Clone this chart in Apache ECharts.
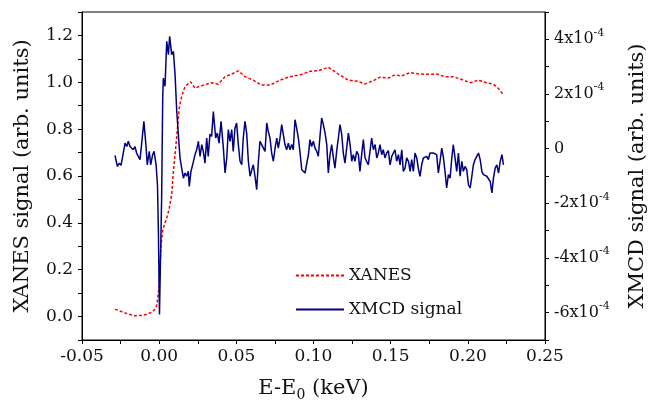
<!DOCTYPE html>
<html>
<head>
<meta charset="utf-8">
<script src="https://cdn.jsdelivr.net/npm/echarts@6/dist/echarts.min.js"></script>
<style>
  html, body { margin: 0; padding: 0; background: #fff; }
  #chart { width: 652px; height: 400px; }
</style>
</head>
<body>
<div id="chart"></div>
<script>
// XANES (left axis), energy E-E0 in keV
const xanesE = [-0.0286, -0.0220, -0.0157, -0.0110, -0.0081, -0.0050, -0.0033, -0.0016, 0.0000, 0.0005,
  0.0015, 0.0023, 0.0038, 0.0049, 0.0065, 0.0081, 0.0092, 0.0103, 0.0118, 0.0130,
  0.0146, 0.0167, 0.0190, 0.0204, 0.0232, 0.0260, 0.0297, 0.0340, 0.0383, 0.0427,
  0.0470, 0.0513, 0.0556, 0.0610, 0.0664, 0.0718, 0.0783, 0.0847, 0.0913, 0.0977,
  0.1031, 0.1096, 0.1161, 0.1226, 0.1280, 0.1334, 0.1388, 0.1431, 0.1485, 0.1528,
  0.1571, 0.1625, 0.1690, 0.1755, 0.1798, 0.1852, 0.1906, 0.1960, 0.2014, 0.2068,
  0.2122, 0.2165, 0.2198, 0.2231];
const xanesS = [0.032, 0.015, 0.003, 0.005, 0.010, 0.018, 0.027, 0.046, 0.13, 0.22,
  0.32, 0.37, 0.40, 0.42, 0.46, 0.52, 0.62, 0.69, 0.80, 0.89,
  0.94, 0.98, 0.995, 1.002, 0.975, 0.982, 0.99, 0.998, 0.992, 1.024,
  1.035, 1.049, 1.024, 1.009, 0.988, 0.988, 1.009, 1.024, 1.031, 1.047,
  1.049, 1.064, 1.035, 1.009, 1.005, 0.993, 1.007, 1.022, 1.018, 1.032,
  1.027, 1.041, 1.035, 1.034, 1.035, 1.024, 1.024, 1.012, 0.998, 1.009,
  0.998, 0.992, 0.974, 0.946];

// XMCD (right axis), values in units of 1e-4
const xmcdE = [-0.0286, -0.0271, -0.0258, -0.0247, -0.0236, -0.0221, -0.0210, -0.0200, -0.0189, -0.0178,
  -0.0168, -0.0157, -0.0146, -0.0135, -0.0124, -0.0114, -0.0099, -0.0086, -0.0077, -0.0064,
  -0.0055, -0.0042, -0.0033, -0.0020, -0.0011, -0.0005, 0.0002, 0.0016, 0.0023, 0.0027,
  0.0038, 0.0049, 0.0060, 0.0068, 0.0081, 0.0092, 0.0103, 0.0114, 0.0124, 0.0135,
  0.0146, 0.0157, 0.0167, 0.0178, 0.0189, 0.0195, 0.0206, 0.0217,
  0.0232, 0.0243, 0.0254, 0.0265, 0.0276, 0.0286, 0.0297, 0.0308, 0.0318, 0.0329,
  0.0340, 0.0351, 0.0366, 0.0377, 0.0388, 0.0401, 0.0416, 0.0427, 0.0438, 0.0448,
  0.0459, 0.0470, 0.0480, 0.0491, 0.0502, 0.0513, 0.0524, 0.0535, 0.0545, 0.0556,
  0.0567, 0.0578, 0.0589, 0.0600, 0.0610, 0.0621, 0.0632, 0.0643, 0.0653, 0.0664,
  0.0675, 0.0686, 0.0697, 0.0707, 0.0718, 0.0729, 0.0740, 0.0751, 0.0762, 0.0772,
  0.0783, 0.0794, 0.0805, 0.0815, 0.0826, 0.0837, 0.0848, 0.0859, 0.0869, 0.0880,
  0.0891, 0.0902, 0.0913, 0.0924, 0.0934,
  0.0945, 0.0956, 0.0967, 0.0977, 0.0988, 0.0999, 0.1010, 0.1021, 0.1031, 0.1042,
  0.1053, 0.1064, 0.1075, 0.1086, 0.1096, 0.1107, 0.1118, 0.1129, 0.1139, 0.1150,
  0.1161, 0.1172, 0.1183, 0.1193, 0.1204, 0.1215, 0.1226, 0.1237, 0.1248, 0.1258,
  0.1269, 0.1280, 0.1291, 0.1301, 0.1312, 0.1323, 0.1334, 0.1345, 0.1355, 0.1366,
  0.1377, 0.1388, 0.1399, 0.1410, 0.1420, 0.1431, 0.1442, 0.1452, 0.1463, 0.1474,
  0.1485, 0.1496, 0.1507, 0.1517, 0.1528, 0.1539, 0.1550, 0.1561, 0.1572, 0.1582,
  0.1593, 0.1604, 0.1615, 0.1626, 0.1636, 0.1647,
  0.1658, 0.1669, 0.1679, 0.1690, 0.1701, 0.1712, 0.1723, 0.1734, 0.1744, 0.1755,
  0.1766, 0.1777, 0.1787, 0.1798, 0.1809, 0.1820, 0.1831, 0.1842, 0.1852, 0.1863,
  0.1874, 0.1885, 0.1896, 0.1906, 0.1917, 0.1928, 0.1939, 0.1950, 0.1961, 0.1971,
  0.1982, 0.1993, 0.2004, 0.2015, 0.2026, 0.2036, 0.2047, 0.2058, 0.2069, 0.2080,
  0.2091, 0.2101, 0.2112, 0.2123, 0.2134, 0.2145, 0.2156, 0.2166, 0.2177, 0.2188,
  0.2199, 0.2210, 0.2221, 0.2231];
const xmcdS = [-0.25, -0.65, -0.53, -0.61, -0.68, 0.20, 0.08, 0.27, 0.08, 0.15,
  -0.04, 0.08, -0.16, -0.10, -0.40, -0.34, 1.00, 0.15, -0.59, -0.10,
  -0.59, -0.22, -0.10, -0.59, -1.32, -3.03, -6.07, -1.81, 1.85, 2.58,
  2.28, 3.93, 3.44, 4.11, 3.44, 3.56, 2.71, 1.36, 1.43, -0.34,
  -0.71, -1.08, -0.89, -1.01, -0.83, -1.38, -0.83, -0.59,
  -0.22, -0.04, 0.27, -0.28, 0.15, -0.10, -0.53, 0.39, -0.28, 0.53,
  0.45, 1.36, 0.39, 0.57, 0.20, 1.00, 0.02, -0.89, -0.34, 0.70,
  0.27, 0.70, -0.10, 0.75, 0.94, 0.15, -0.46, -0.59, 0.39, 1.00,
  0.57, -0.46, -1.01, -0.77, -0.59, -1.01, -1.50, -0.46, 0.27, 0.15,
  0.20, -0.10, 0.94, 0.63, 0.39, -0.16, -0.46, 0.02, 0.39, 0.02,
  0.39, 0.88, 0.94, 0.15, -0.04, 0.20, -0.04, 0.15, -0.04, 1.06,
  0.75, 0.39, -0.16, -0.77, -0.71,
  -0.89, -0.95, -0.22, 0.33, 0.08, 0.27, 0.02, -0.10, -0.28, 0.45,
  1.12, 0.88, 0.57, 0.15, -0.89, -0.22, 0.15, -0.34, -0.71, -0.10,
  0.39, 0.88, 0.51, -0.16, -0.53, 0.02, 0.57, 0.15, -0.46, -0.22,
  -0.46, -0.10, -0.22, -0.83, -0.22, 0.33, -0.34, -0.34, -0.59, -0.10,
  0.39, -0.04, 0.15, -0.34, -0.16, 0.15, -0.22, -0.04, -0.34, -0.16,
  -0.07, -0.59, -0.28, -0.22, -0.04, -0.46, -0.22, -0.59, -0.04, -0.83,
  -0.71, -0.34, -0.46, -0.83, -0.40, -0.83,
  -0.16, -0.34, -0.71, -1.01, -0.59, -0.34, -0.40, -0.28, -0.40, -0.16,
  -0.10, -0.16, -0.10, -0.22, -0.89, -0.46, 0.02, -0.34, -0.83, -1.44,
  -0.95, -1.08, -0.34, 0.15, -0.34, -0.83, -0.16, -1.01, -0.46, -0.83,
  -0.65, -0.77, -1.32, -1.44, -1.01, -0.59, -0.40, -0.46, -0.16, -0.40,
  -0.83, -0.95, -0.89, -1.01, -1.01, -1.20, -1.62, -1.08, -0.71, -0.59,
  -0.89, -0.46, -0.22, -0.59];

const seriesNames = ['XANES', 'XMCD signal'];

const font = 'DejaVu Serif';
const chart = echarts.init(document.getElementById('chart'));

const axisCommon = {
  axisLine: { show: true, onZero: false, lineStyle: { color: '#000', width: 1 } },
  axisTick: { show: true, inside: false, length: 4, lineStyle: { color: '#000' } },
  splitLine: { show: false },
  nameTextStyle: { fontFamily: font, fontSize: 21, color: '#111' }
};

chart.setOption({
  animation: false,
  backgroundColor: '#fff',
  grid: {
    left: 82, right: 107, top: 12, bottom: 60,
    outerBoundsMode: 'none',
    show: true, borderColor: '#000', borderWidth: 1
  },
  legend: {
    data: seriesNames,
    orient: 'vertical',
    left: 290, top: 262,
    itemWidth: 48, itemHeight: 12, itemGap: 17,
    // hide the marker circle, keep only the line sample
    itemStyle: { opacity: 0 },
    textStyle: { fontFamily: font, fontSize: 17, color: '#111' }
  },
  xAxis: Object.assign({}, axisCommon, {
    type: 'value',
    min: -0.05, max: 0.25, interval: 0.025,
    name: 'E-E{sub|0} (keV)',
    nameLocation: 'middle',
    nameGap: 36,
    nameTextStyle: {
      fontFamily: font, fontSize: 21, color: '#111',
      rich: { sub: { fontFamily: font, fontSize: 14, color: '#111', padding: [12, 0, 0, 0] } }
    },
    axisLabel: {
      fontFamily: font, fontSize: 17, color: '#111', margin: 8,
      formatter: v => (Math.round(v * 1000) % 50 === 0 ? v.toFixed(2) : '')
    }
  }),
  yAxis: [
    Object.assign({}, axisCommon, {
      type: 'value',
      min: -0.1, max: 1.3, interval: 0.1,
      name: 'XANES signal (arb. units)',
      nameLocation: 'middle',
      nameRotate: 90,
      nameGap: 49,
      axisLabel: {
        fontFamily: font, fontSize: 17, color: '#111', margin: 9,
        formatter: v => {
          const k = Math.round(v * 10);
          return k % 2 === 0 ? (k / 10).toFixed(1) : '';
        }
      }
    }),
    Object.assign({}, axisCommon, {
      type: 'value',
      position: 'right',
      min: -7, max: 5, interval: 1,
      name: 'XMCD signal (arb. units)',
      nameLocation: 'middle',
      nameRotate: 90,
      nameGap: 82,
      axisLabel: {
        fontFamily: font, fontSize: 16, color: '#111', margin: 9,
        formatter: v => {
          const k = Math.round(v);
          if (k % 2 !== 0) return '';
          if (k === 0) return '0';
          return k + 'x10{sup|-4}';
        },
        rich: { sup: { fontFamily: font, fontSize: 11, color: '#111', padding: [0, 0, 13, 0] } }
      }
    })
  ],
  series: [
    {
      name: seriesNames[0],
      type: 'line',
      yAxisIndex: 0,
      showSymbol: false,
      symbol: 'none',
      color: '#ff0000',
      lineStyle: { color: '#ff0000', width: 1.5, type: [3, 2] },
      data: xanesE.map((e, i) => [e, xanesS[i]])
    },
    {
      name: seriesNames[1],
      type: 'line',
      yAxisIndex: 1,
      showSymbol: false,
      symbol: 'none',
      color: '#000080',
      lineStyle: { color: '#000080', width: 1.5 },
      data: xmcdE.map((e, i) => [e, xmcdS[i]])
    }
  ]
});
</script>
</body>
</html>
